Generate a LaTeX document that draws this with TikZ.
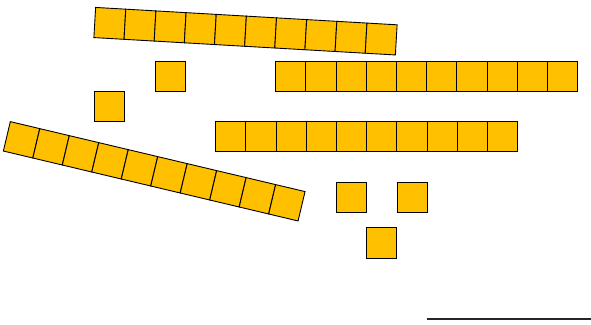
\documentclass[tikz,border=0pt]{standalone}
\usepackage{tikz}
\usetikzlibrary{positioning}
\definecolor{tilegold}{HTML}{FFC000}
\tikzset{
  tile/.style={draw=black, fill=tilegold, line width=0.9pt, minimum size=30.2pt, inner sep=0pt, outer sep=0pt},
  baseline rule/.style={line width=1.6pt, draw=black!85}
}

\begin{document}
\begin{tikzpicture}[x=1pt, y=-1pt]
        \useasboundingbox (0,0) rectangle (591,324);

        % Tilted bar (top)
        \begin{scope}[shift={(245.5,31.2)}, rotate=-3.3, transform shape]
          \foreach \i in {0,...,9}
            \node[tile] (topbar\i) at ({(\i-4.5)*30.2},0) {};
        \end{scope}

        % Straight row (upper right)
        \foreach \i in {0,...,9}
          \node[tile] (rowa\i) at ({290.8+30.2*\i},76.7) {};

        % Straight row (middle)
        \foreach \i in {0,...,9}
          \node[tile] (rowb\i) at ({230.8+30.2*\i},136.7) {};

        % Tilted bar (left)
        \begin{scope}[shift={(154.2,171.3)}, rotate=-13.35, transform shape]
          \foreach \i in {0,...,9}
            \node[tile] (lowbar\i) at ({(\i-4.5)*30.3},0) {};
        \end{scope}

        % Single tiles
        \node[tile] (one1) at (170.3,76.7) {};
        \node[tile] (one2) at (109.5,106.8) {};
        \node[tile] (one3) at (351.7,197.3) {};
        \node[tile] (one4) at (412.2,197.3) {};
        \node[tile] (one5) at (381.8,243) {};

        % Rule at the bottom
        \coordinate (rulestart) at (427.3,318.7);
        \coordinate (ruleend) at (590.7,318.7);
        \draw[baseline rule] (rulestart) -- (ruleend);
\end{tikzpicture}
\end{document}
